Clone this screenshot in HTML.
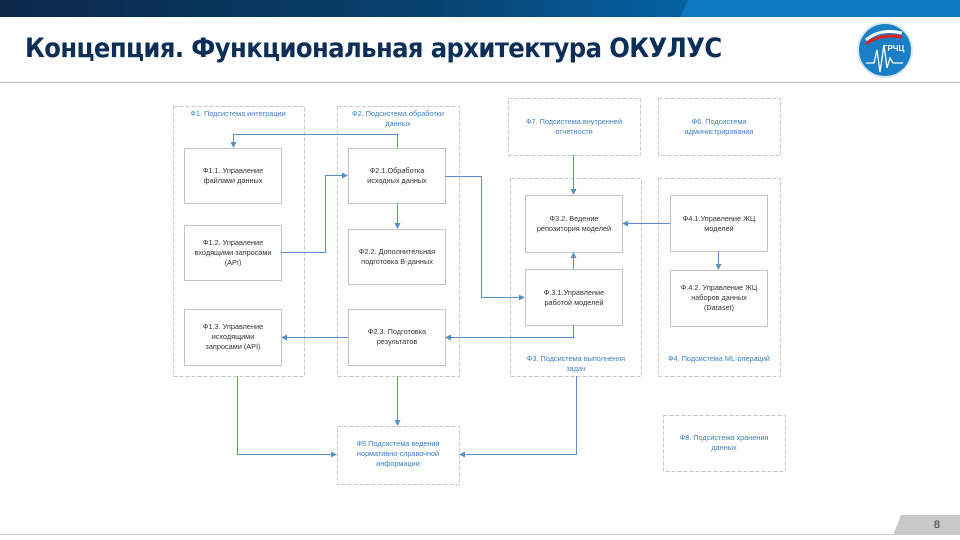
<!DOCTYPE html>
<html><head><meta charset="utf-8"><style>
body{margin:0;width:960px;height:540px;background:#fff;overflow:hidden;position:relative;font-family:"Liberation Sans","DejaVu Sans",sans-serif}
.top{position:absolute;left:0;top:0;width:960px;height:17px;background:linear-gradient(90deg,#0a2748 0%,#07426f 45%,#0560a0 70%,#0a74c0 100%)}
.top2{position:absolute;left:680px;top:0;width:280px;height:17px;background:#0b78c4;clip-path:polygon(8px 0,100% 0,100% 100%,0 100%)}
h1{position:absolute;left:25px;top:33px;margin:0;font-size:27px;font-weight:bold;color:#0d2f57;letter-spacing:-0.6px;font-family:"DejaVu Sans Condensed","Liberation Sans Narrow","Liberation Sans",sans-serif}
.hl{position:absolute;left:0;top:82px;width:960px;height:1px;background:#bbb}
.pg{position:absolute;left:893px;top:515px;width:67px;height:20px;background:#c8c8c8;clip-path:polygon(8px 0,100% 0,100% 100%,0 100%);font-size:11px;color:#333;text-align:right;box-sizing:border-box;padding:4px 20px 0 0}
.bl{position:absolute;left:0;top:534px;width:960px;height:1px;background:#ccc}
</style></head><body>
<div class="top"></div><div class="top2"></div>
<h1>Концепция. Функциональная архитектура ОКУЛУС</h1>
<div class="hl"></div>
<svg style="position:absolute;left:0;top:0" width="960" height="540" font-family="Liberation Sans, DejaVu Sans, sans-serif">
<defs><marker id="a" markerWidth="6" markerHeight="6" refX="5" refY="3" orient="auto"><path d="M0,0 L6,3 L0,6z" fill="#5b8fc9"/></marker></defs>
<!-- logo -->
<circle cx="885" cy="50" r="27" fill="#1b7fc6" stroke="#d8e8f4" stroke-width="2"/>
<path d="M866,40 Q880,28 902,33" stroke="#fff" stroke-width="3" fill="none"/>
<path d="M866,44 Q880,33 902,37" stroke="#d22" stroke-width="3" fill="none"/>
<path d="M866,63 L874,63 L877,50 L880,72 L884,45 L887,68 L890,58 L893,63 L903,63" stroke="#fff" stroke-width="1.3" fill="none"/>
<text x="883" y="51" font-size="8" font-weight="bold" fill="#fff">ГРЧЦ</text>
<g fill="none" stroke="#c9c9c9" stroke-dasharray="4,2">
<rect x="173.5" y="106.5" width="131" height="270"/>
<rect x="337.5" y="106.5" width="122" height="270"/>
<rect x="508.5" y="98.5" width="132" height="57"/>
<rect x="658.5" y="98.5" width="122" height="57"/>
<rect x="510.5" y="178.5" width="131" height="198"/>
<rect x="658.5" y="178.5" width="122" height="198"/>
<rect x="337.5" y="426.5" width="122" height="58"/>
<rect x="663.5" y="415.5" width="122" height="56"/>
</g>
<g fill="#fff" stroke="#c4c4c4">
<rect x="184.5" y="148.5" width="97" height="55"/>
<rect x="184.5" y="225.5" width="97" height="55"/>
<rect x="184.5" y="309.5" width="97" height="56"/>
<rect x="348.5" y="148.5" width="97" height="55"/>
<rect x="348.5" y="229.5" width="97" height="55"/>
<rect x="348.5" y="309.5" width="97" height="56"/>
<rect x="525.5" y="195.5" width="97" height="57"/>
<rect x="525.5" y="269.5" width="97" height="56"/>
<rect x="670.5" y="195.5" width="97" height="56"/>
<rect x="670.5" y="270.5" width="97" height="56"/>
</g>
<g fill="none" stroke="#5b8fc9" stroke-width="1" marker-end="url(#a)">
<path d="M397.5,148 V134.5 H233.5 V147"/>
<path d="M281,252.5 H325.5 V175.5 H347"/>
<path d="M397.5,203 V228"/>
<path d="M445,176.5 H481.5 V297.5 H524"/>
<path d="M573.5,325 V337.5 H446"/>
<path d="M348,337.5 H282"/>
<path d="M573.5,155 V194"/>
<path d="M573.5,269 V253"/>
<path d="M670,223.5 H623"/>
<path d="M718.5,251 V269"/>
<path d="M237.5,376 V454.5 H336"/>
<path d="M397.5,376 V425"/>
<path d="M576.5,376 V454.5 H460"/>
</g>
<g font-size="7.3" fill="#3d7fbf" text-anchor="middle">
<text x="238" y="116">Ф1. Подсистема интеграции</text>
<text x="398" y="116">Ф2. Подсистема обработки</text><text x="398" y="126">данных</text>
<text x="574" y="124">Ф7. Подсистема внутренней</text><text x="574" y="134">отчетности</text>
<text x="719" y="124">Ф6. Подсистема</text><text x="719" y="134">администрирования</text>
<text x="576" y="361">Ф3. Подсистема выполнения</text><text x="576" y="371">задач</text>
<text x="719" y="361">Ф4. Подсистема ML-операций</text>
<text x="398" y="446">Ф5.Подсистема ведения</text><text x="398" y="456">нормативно-справочной</text><text x="398" y="466">информации</text>
<text x="724" y="440">Ф8. Подсистема хранения</text><text x="724" y="450">данных</text>
</g>
<g font-size="7.3" fill="#333" text-anchor="middle">
<text x="233" y="173">Ф1.1.  Управление</text><text x="233" y="183">файлами данных</text>
<text x="233" y="245">Ф1.2. Управление</text><text x="233" y="255">входящими запросами</text><text x="233" y="265">(API)</text>
<text x="233" y="329">Ф1.3. Управление</text><text x="233" y="339">исходящими</text><text x="233" y="349">запросами (API)</text>
<text x="397" y="173">Ф2.1.Обработка</text><text x="397" y="183">исходных данных</text>
<text x="397" y="254">Ф2.2. Дополнительная</text><text x="397" y="264">подготовка B-данных</text>
<text x="397" y="334">Ф2.3. Подготовка</text><text x="397" y="344">результатов</text>
<text x="574" y="221">Ф3.2. Ведение</text><text x="574" y="231">репозитория  моделей</text>
<text x="574" y="295">Ф.3.1.Управление</text><text x="574" y="305">работой моделей</text>
<text x="719" y="221">Ф4.1.Управление  ЖЦ</text><text x="719" y="231">моделей</text>
<text x="719" y="290">Ф.4.2. Управление  ЖЦ</text><text x="719" y="300">наборов данных</text><text x="719" y="310">(Dataset)</text>
</g>
</svg>
<div class="bl"></div>
<div class="pg">8</div>
</body></html>
